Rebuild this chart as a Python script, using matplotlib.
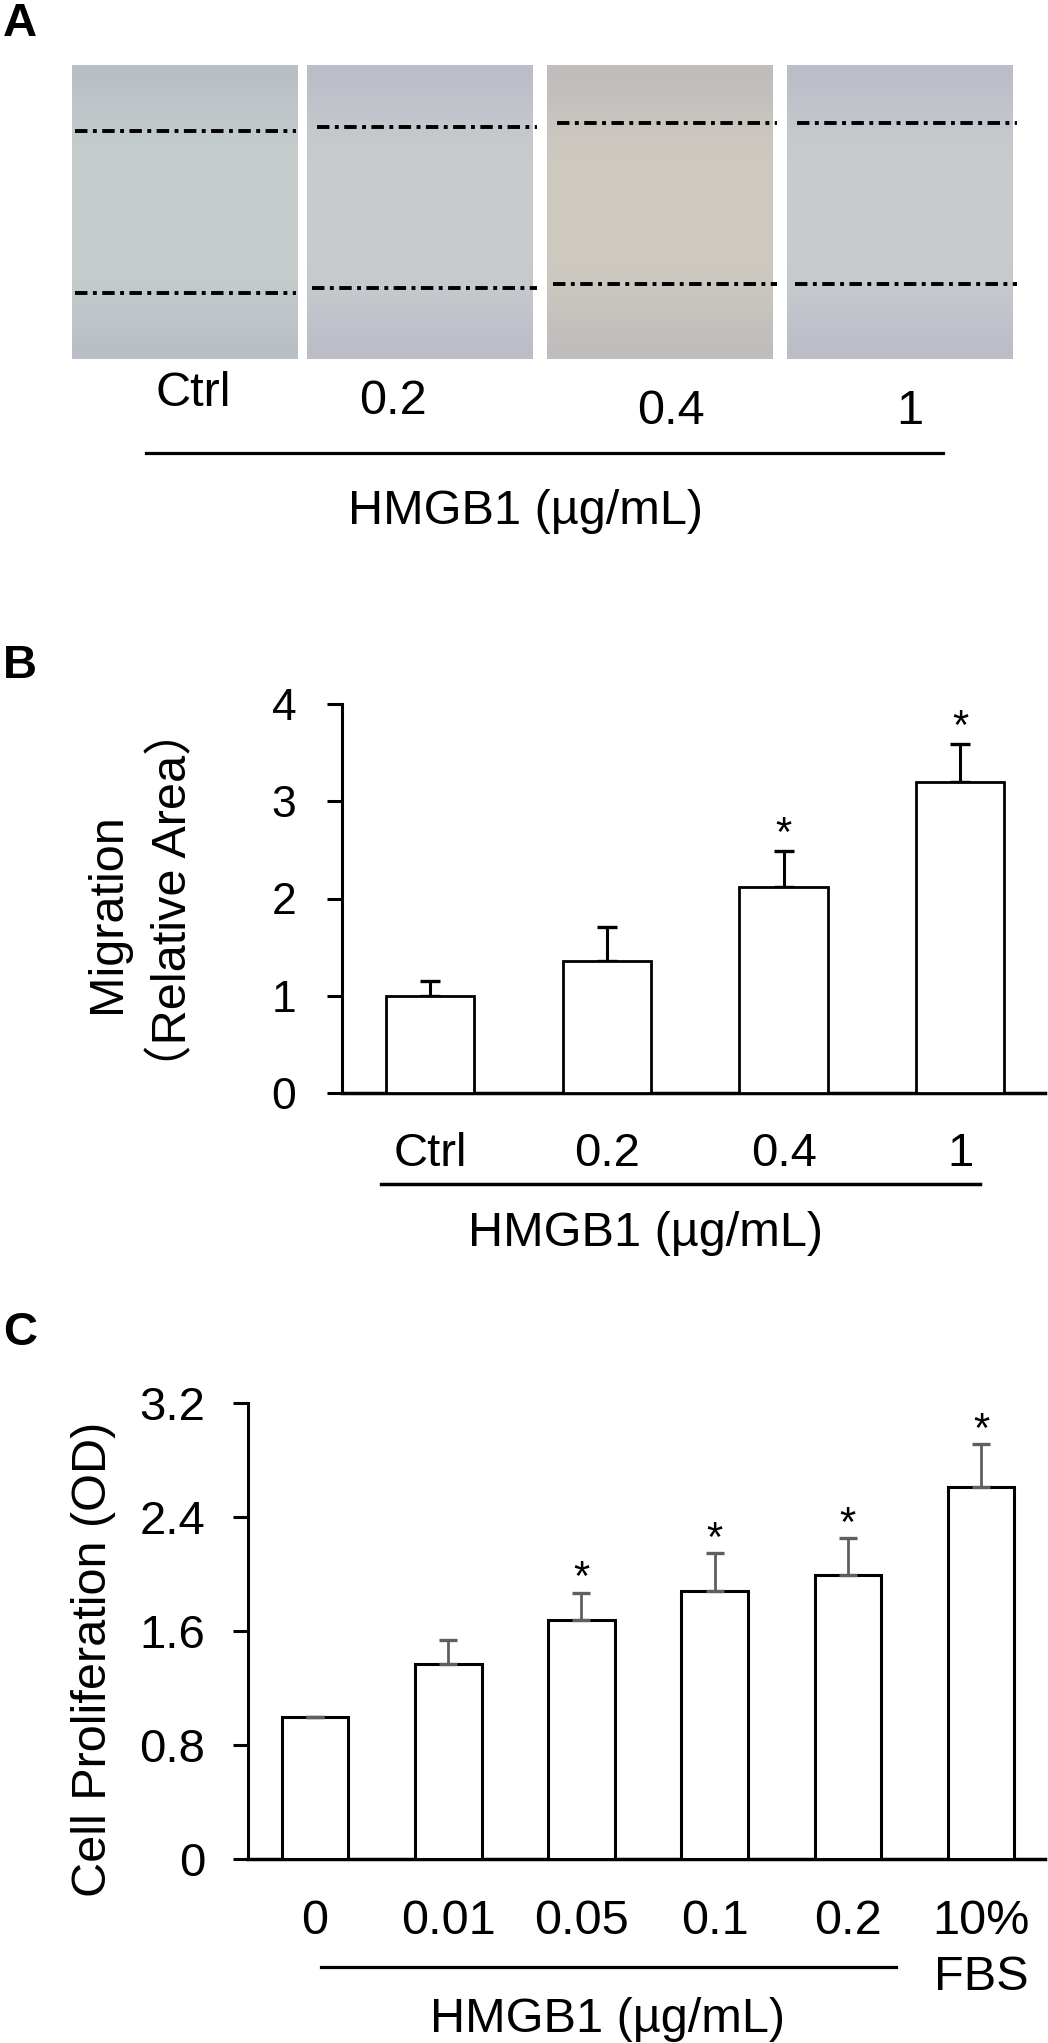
import numpy as np
import matplotlib
matplotlib.use('Agg')
import matplotlib.pyplot as plt
from matplotlib.lines import Line2D

plt.rcParams['font.family'] = ['Liberation Sans', 'DejaVu Sans']

W, H = 1048, 2043

# Panel A: wound-healing images (placeholder tones), edges of the scratch
a_labels = ['Ctrl', '0.2', '0.4', '1']
img_left = [72, 307, 547, 787]
img_right = [298, 533, 773, 1013]
img_tone = [(198, 205, 204), (200, 204, 206), (206, 202, 192), (200, 204, 206)]
upper_edge = [131, 127, 123, 123]
lower_edge = [293, 288, 284, 284]
upper_span = [(75, 296), (317, 537), (557, 777), (797, 1017)]
lower_span = [(75, 296), (312, 537), (553, 777), (795, 1017)]
a_label_x = [193, 393, 671, 910]
a_label_y = [394, 402, 411, 411]

# Panel B: migration
mig_groups = ['Ctrl', '0.2', '0.4', '1']
mig_mean = [1.0, 1.36, 2.12, 3.2]
mig_err = [0.15, 0.35, 0.37, 0.39]
mig_sig = [False, False, True, True]

# Panel C: proliferation
pro_groups = ['0', '0.01', '0.05', '0.1', '0.2', '10%\nFBS']
pro_mean = [1.0, 1.37, 1.68, 1.88, 1.99, 2.61]
pro_err = [0.0, 0.17, 0.19, 0.27, 0.26, 0.30]
pro_sig = [False, False, True, True, True, True]


def fx(x):
    return x / W


def fy(y):
    return 1 - y / H


fig = plt.figure(figsize=(W / 100, H / 100), dpi=100)

# ---------- panel A ----------
axA = fig.add_axes([0, fy(470), 1, 470 / H])
axA.set_xlim(0, W)
axA.set_ylim(470, 0)
axA.axis('off')

yy = np.linspace(0, 1, 300)[:, None]
density = np.exp(-(yy / 0.2) ** 2) + np.exp(-((1 - yy) / 0.2) ** 2)
purple = np.array([110, 105, 165]) / 255
dash = (0, (3.2, 1.4, 1.0, 1.4))
for i in range(4):
    base = np.array(img_tone[i]) / 255
    mix = 0.14 * density
    img = base * (1 - mix[..., None]) + purple * mix[..., None]
    img = np.repeat(img, 10, axis=1)
    axA.imshow(img, extent=(img_left[i], img_right[i], 359, 65), aspect='auto', zorder=1)
    axA.plot(upper_span[i], [upper_edge[i]] * 2, color='black', lw=2.8, ls=dash, zorder=2)
    axA.plot(lower_span[i], [lower_edge[i]] * 2, color='black', lw=2.8, ls=dash, zorder=2)
    axA.text(a_label_x[i], a_label_y[i], a_labels[i], fontsize=35, ha='center', va='center')

fig.add_artist(Line2D([fx(146), fx(943)], [fy(453)] * 2, color='black', lw=2.3))
fig.text(fx(525), fy(512), 'HMGB1 (µg/mL)', fontsize=35, ha='center', va='center')

# ---------- panel B ----------
axB = fig.add_axes([fx(342), fy(1093), 703 / W, 389 / H])
xb = np.arange(len(mig_groups))
axB.bar(xb, mig_mean, width=0.5, color='white', edgecolor='black', linewidth=2.0, zorder=3)
axB.errorbar(xb, mig_mean, yerr=[np.zeros(len(xb)), mig_err], fmt='none', ecolor='black',
             elinewidth=2.2, capsize=7, capthick=2.4, zorder=2)
for i in range(len(xb)):
    if mig_sig[i]:
        axB.annotate('*', (xb[i], mig_mean[i] + mig_err[i]), xytext=(0, 3.5),
                     textcoords='offset points', ha='center', va='baseline', fontsize=30)
axB.set_xlim(-0.5, 3.48)
axB.set_ylim(0, 4)
axB.set_yticks([0, 1, 2, 3, 4])
axB.set_xticks(xb)
axB.set_xticklabels(mig_groups)
axB.tick_params(axis='x', length=0, pad=28, labelsize=34)
axB.tick_params(axis='y', length=10.8, width=2.2, pad=22, labelsize=32)
for s in ['top', 'right']:
    axB.spines[s].set_visible(False)
axB.spines['left'].set_linewidth(2.2)
axB.spines['bottom'].set_linewidth(2.5)

fig.text(fx(108), fy(913), 'Migration', fontsize=35, rotation=90, ha='center', va='center')
fig.text(fx(173), fy(900), '（Relative Area）', fontsize=35, rotation=90, ha='center', va='center',
         family=['Liberation Sans', 'Noto Sans CJK SC'])
fig.add_artist(Line2D([fx(381), fx(980)], [fy(1184)] * 2, color='black', lw=2.5))
fig.text(fx(645), fy(1234), 'HMGB1 (µg/mL)', fontsize=35, ha='center', va='center')

# ---------- panel C ----------
axC = fig.add_axes([fx(248), fy(1859), 797 / W, 456 / H])
xc = np.arange(len(pro_groups))
axC.bar(xc, pro_mean, width=0.5, color='white', edgecolor='black', linewidth=2.2, zorder=3)
axC.errorbar(xc, pro_mean, yerr=[np.zeros(len(xc)), pro_err], fmt='none', ecolor='#5f5f5f',
             elinewidth=2.0, capsize=6.5, capthick=2.4, zorder=4)
for i in range(len(xc)):
    if pro_sig[i]:
        axC.annotate('*', (xc[i], pro_mean[i] + pro_err[i]), xytext=(0, 1.5),
                     textcoords='offset points', ha='center', va='baseline', fontsize=30)
axC.set_xlim(-0.503, 5.48)
axC.set_ylim(0, 3.2)
axC.set_yticks([0, 0.8, 1.6, 2.4, 3.2])
axC.set_yticklabels(['0', '0.8', '1.6', '2.4', '3.2'])
axC.set_xticks(xc)
axC.set_xticklabels(pro_groups)
axC.tick_params(axis='x', length=0, pad=29, labelsize=35)
axC.tick_params(axis='y', length=10.8, width=2.2, pad=20, labelsize=34)
axC.get_xticklabels()[-1].set_linespacing(1.3)
for s in ['top', 'right']:
    axC.spines[s].set_visible(False)
axC.spines['left'].set_linewidth(2.2)
axC.spines['bottom'].set_linewidth(2.5)

fig.text(fx(94), fy(1659), 'Cell Proliferation (OD)', fontsize=35, rotation=90, ha='center', va='center')
fig.add_artist(Line2D([fx(321), fx(896)], [fy(1967)] * 2, color='black', lw=2.3))
fig.text(fx(607), fy(2020), 'HMGB1 (µg/mL)', fontsize=35, ha='center', va='center')

# panel letters
fig.text(fx(3), fy(2), 'A', fontsize=34, fontweight='bold', ha='left', va='top')
fig.text(fx(3), fy(644), 'B', fontsize=34, fontweight='bold', ha='left', va='top')
fig.text(fx(3), fy(1311), 'C', fontsize=34, fontweight='bold', ha='left', va='top')

fig.savefig('out.png', dpi=100)
